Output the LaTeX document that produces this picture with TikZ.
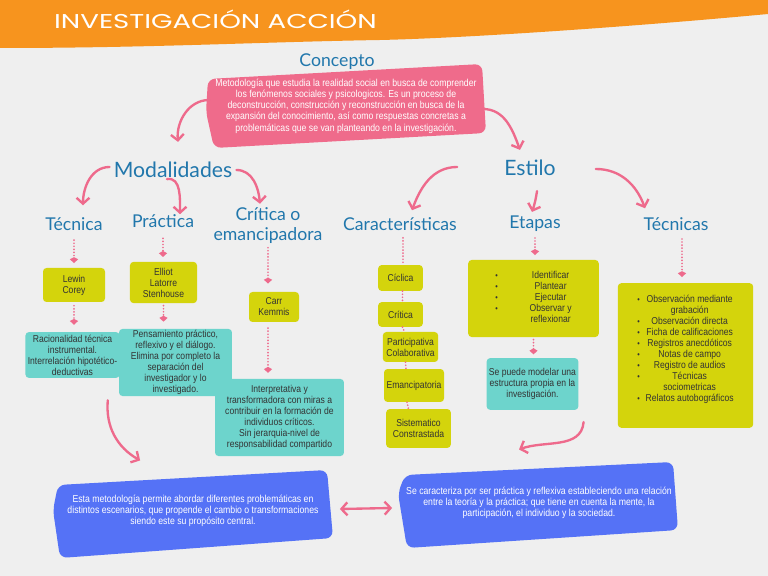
\documentclass[tikz,border=0pt]{standalone}
\usepackage{fontspec}
\setmainfont{Liberation Sans}
\newfontfamily\bodyfont[FakeStretch=0.86]{Liberation Sans}
\newfontfamily\headfont{Lato}
\newfontfamily\titlefont[FakeStretch=1.38]{Poppins}
\usetikzlibrary{arrows.meta,calc}

\definecolor{bgray}{HTML}{EFEFEF}
\definecolor{orangeband}{HTML}{F7941E}
\definecolor{headblue}{HTML}{2177AC}
\definecolor{pinkline}{HTML}{EE6A8C}
\definecolor{pinkbox}{HTML}{EF6B8B}
\definecolor{olive}{HTML}{D4D40C}
\definecolor{tealbox}{HTML}{6DD4CC}
\definecolor{bluebox}{HTML}{5572F6}
\definecolor{darktext}{HTML}{333333}

\tikzset{
  head/.style={font=\headfont\fontsize{15}{17}\selectfont, text=headblue, align=center, inner sep=0pt},
  bighead/.style={head, font=\headfont\fontsize{18}{20}\selectfont},
  card/.style={font=\bodyfont\fontsize{8.5}{9.4}\selectfont, text=darktext, align=center,
    rounded corners=3pt, inner xsep=2pt, inner ysep=1pt},
  ybox/.style={card, fill=olive},
  tbox/.style={card, fill=tealbox},
  wtext/.style={font=\bodyfont\fontsize{8.6}{9.6}\selectfont, text=white, align=center, inner sep=0pt},
  curvy/.style={draw=pinkline, line width=2pt, line cap=round, -{Straight Barb[length=5pt,width=11pt]}},
  dotlink/.style={draw=pinkline, line width=1.6pt, line cap=round, dash pattern=on 0pt off 2.6pt,
    -{Kite[length=5pt,width=7pt,inset=1.8pt]}},
  dotplain/.style={draw=pinkline, line width=1.6pt, line cap=round, dash pattern=on 0pt off 2.6pt},
}
\newcommand{\bul}{{\fontsize{7}{7}\selectfont\textbullet}}

\begin{document}
\begin{tikzpicture}[x=0.85pt,y=-0.85pt]
  \fill[bgray] (0,0) rectangle (768,576);
  \useasboundingbox (0,0) rectangle (768,576);

  % title band
  \fill[orangeband] (0,0) -- (768,0) -- (768,14)
    .. controls (640,26) and (470,38) .. (380,40)
    .. controls (260,42) and (150,48) .. (0,48) -- cycle;
  \node[font=\titlefont\fontsize{17}{17}\selectfont, text=white, anchor=west] (title) at (50,19) {INVESTIGACIÓN ACCIÓN};

  % hand drawn boxes
  \fill[pinkbox, rounded corners=6pt] (208,79) -- (482,64) -- (486,133) -- (214,148) -- (206,112) -- cycle;
  \fill[bluebox, rounded corners=6pt] (58,485) -- (327,470) -- (333,538) -- (60,558) -- (53,510) -- cycle;
  \fill[bluebox, rounded corners=6pt] (405,475) -- (673,462) -- (678,530) -- (407,548) -- (398,493) -- cycle;

  % concepto
  \node[head] (concepto) at (337,62) {Concepto};
  \node[wtext, minimum width=229pt] (def) at (346,106) {Metodología que estudia la realidad social en busca de comprender\\
    los fenómenos sociales y psicologicos. Es un proceso de\\
    deconstrucción, construcción y reconstrucción en busca de la\\
    expansión del conocimiento, así como respuestas concretas a\\
    problemáticas que se van planteando en la investigación.};

  \node[bighead] (modal) at (173,170) {Modalidades};
  \node[bighead] (estilo) at (530,168) {Estilo};

  \node[head] (tecnica) at (74,224) {Técnica};
  \node[head] (practica) at (163,221) {Práctica};
  \node[head] (critica) at (268,226) {Crítica o\\emancipadora};
  \node[head] (caract) at (400,224) {Características};
  \node[head] (etapas) at (535,224) {Etapas};
  \node[head] (tecnicas) at (676,224) {Técnicas};

  % modalidades
  \node[ybox, minimum width=52.7pt, minimum height=28.9pt] (lewin) at (74,285) {Lewin\\Corey};
  \node[ybox, minimum width=57pt, minimum height=35pt] (elliot) at (163.5,282.5) {Elliot\\Latorre\\Stenhouse};
  \node[ybox, minimum width=42.5pt, minimum height=25.5pt] (carr) at (274,307) {Carr\\Kemmis};
  \node[tbox, minimum width=75.6pt, minimum height=39pt] (racional) at (72.5,355) {Racionalidad técnica\\instrumental.\\Interrelación hipotético-\\deductivas};
  \node[tbox, minimum width=96pt, minimum height=53.5pt] (pensam) at (175.5,362.5) {Pensamiento práctico,\\reflexivo y el diálogo.\\Elimina por completo la\\separación del\\investigador y lo\\investigado.};
  \node[tbox, minimum width=109.6pt, minimum height=65.5pt] (interp) at (279.5,417.5) {Interpretativa y\\transformadora con miras a\\contribuir en la formación de\\individuos críticos.\\Sin jerarquia-nivel de\\responsabilidad compartido};

  % estilo
  \node[ybox, minimum width=38pt, minimum height=22pt] (ciclica) at (400.5,278) {Cíclica};
  \node[ybox, minimum width=38pt, minimum height=21pt] (critica2) at (400.5,314.5) {Crítica};
  \node[ybox, minimum width=47pt, minimum height=25.5pt] (particip) at (410.5,347) {Participativa\\Colaborativa};
  \node[ybox, minimum width=51pt, minimum height=28pt] (emanc) at (414,385.5) {Emancipatoria};
  \node[ybox, minimum width=55pt, minimum height=33pt] (sistem) at (418.5,428.5) {Sistematico\\Constrastada};

  \node[ybox, minimum width=111pt, minimum height=65.5pt] (identif) at (533.5,298.5)
    {\begin{tabular}{@{}c@{\hspace{27pt}}c@{}}
      \bul & Identificar\\ \bul & Plantear\\ \bul & Ejecutar\\ \bul & Observar y\\ & reflexionar
     \end{tabular}};
  \node[tbox, minimum width=75.6pt, minimum height=44pt] (modelar) at (532.5,384) {Se puede modelar una\\estructura propia en la\\investigación.};

  \node[ybox, minimum width=115pt, minimum height=123pt] (techlist) at (685.5,355.5)
    {\begin{tabular}{@{}c@{\hspace{5pt}}c@{}}
      \bul & Observación mediante\\ & grabación\\
      \bul & Observación directa\\ \bul & Ficha de calificaciones\\
      \bul & Registros anecdóticos\\ \bul & Notas de campo\\
      \bul & Registro de audios\\ \bul & Técnicas\\ & sociometricas\\
      \bul & Relatos autobográficos\\[10pt]
     \end{tabular}};

  % summaries
  \node[wtext, minimum width=234pt, minimum height=60pt] (sumleft) at (193,511) {Esta metodología permite abordar diferentes problemáticas en\\
    distintos escenarios, que propende el cambio o transformaciones\\siendo este su propósito central.};
  \node[wtext, minimum width=234pt, minimum height=60pt] (sumright) at (539,503) {Se caracteriza por ser práctica y reflexiva estableciendo una relación\\
    entre la teoría y la práctica; que tiene en cuenta la mente, la\\participación, el individuo y la sociedad.};

  % curved arrows
  \draw[curvy] ($(def.west)+(-2,-6)$) to[out=180,in=95] ($(modal.north)+(5,-20)$);
  \draw[curvy] ($(def.east)+(2,3)$) to[out=0,in=110] ($(estilo.north)+(-10,-10)$);
  \draw[curvy] ($(modal.west)+(-4,-3)$) to[out=180,in=90] ($(tecnica.north)+(9,-12)$);
  \draw[curvy] ($(modal.south)+(-6,1)$) to[out=10,in=90] ($(practica.north)+(17,0)$);
  \draw[curvy] ($(modal.east)+(4,0)$) to[out=0,in=95] ($(critica.north)+(-8,-4)$);
  \draw[curvy] ($(estilo.west)+(-47,-1)$) to[out=180,in=70] ($(caract.north)+(12,-7)$);
  \draw[curvy] ($(estilo.south)+(7,15)$) to[bend left=5] ($(etapas.north)+(-3,-4)$);
  \draw[curvy] ($(estilo.east)+(40,1)$) to[out=0,in=110] ($(tecnicas.north)+(-31,-9)$);
  \draw[curvy] ($(pensam.south west)+(-11,4)$) to[out=265,in=150] ($(sumleft.north west)+(85,-15)$);
  \draw[curvy] ($(modelar.south east)+(5,12)$) to[out=-95,in=20] ($(sumright.north)+(-20,-18)$);
  \draw[curvy, {Straight Barb[length=5pt,width=11pt]}-{Straight Barb[length=5pt,width=11pt]}]
    ($(sumleft.east)+(9,-2)$) -- ($(sumright.west)+(-9,5)$);

  % dotted links
  \coordinate (caractfoot) at ($(caract.south)+(3,0)$);
  \coordinate (tecnicasfoot) at ($(tecnicas.south)+(6,0)$);
  \draw[dotlink, shorten <=8pt, shorten >=4pt] (tecnica.south) -- (tecnica.south |- lewin.north);
  \draw[dotlink, shorten <=3pt, shorten >=6pt] (lewin.south) -- (lewin.south |- racional.north);
  \draw[dotlink, shorten <=9pt, shorten >=4pt] (practica.south) -- (practica.south |- elliot.north);
  \draw[dotlink, shorten <=2pt, shorten >=6pt] (elliot.south) -- (elliot.south |- pensam.north);
  \draw[dotlink, shorten <=3pt, shorten >=7pt] (critica.south) -- (critica.south |- carr.north);
  \draw[dotlink, shorten <=5pt, shorten >=5pt] (critica.south |- carr.south) -- (critica.south |- interp.north);
  \draw[dotplain, shorten <=6pt] (caractfoot) -- (caractfoot |- ciclica.north);
  \draw[dotplain] ($(ciclica.south)+(2,0)$) -- ($(critica2.north)+(2,0)$);
  \draw[dotplain] ($(critica2.south)+(2,0)$) -- ($(particip.north)+(-6,0)$);
  \draw[dotplain] ($(particip.south)+(-5,0)$) -- ($(emanc.north)+(-8,0)$);
  \draw[dotplain] ($(emanc.south)+(-7,0)$) -- ($(sistem.north)+(-10,0)$);
  \draw[dotlink, shorten <=5pt, shorten >=4pt] (etapas.south) -- (etapas.south |- identif.north);
  \draw[dotlink, shorten <=2pt, shorten >=3pt] (identif.south) -- (identif.south |- modelar.north);
  \draw[dotlink, shorten <=7pt, shorten >=5pt] (tecnicasfoot) -- (tecnicasfoot |- techlist.north);
\end{tikzpicture}
\end{document}
